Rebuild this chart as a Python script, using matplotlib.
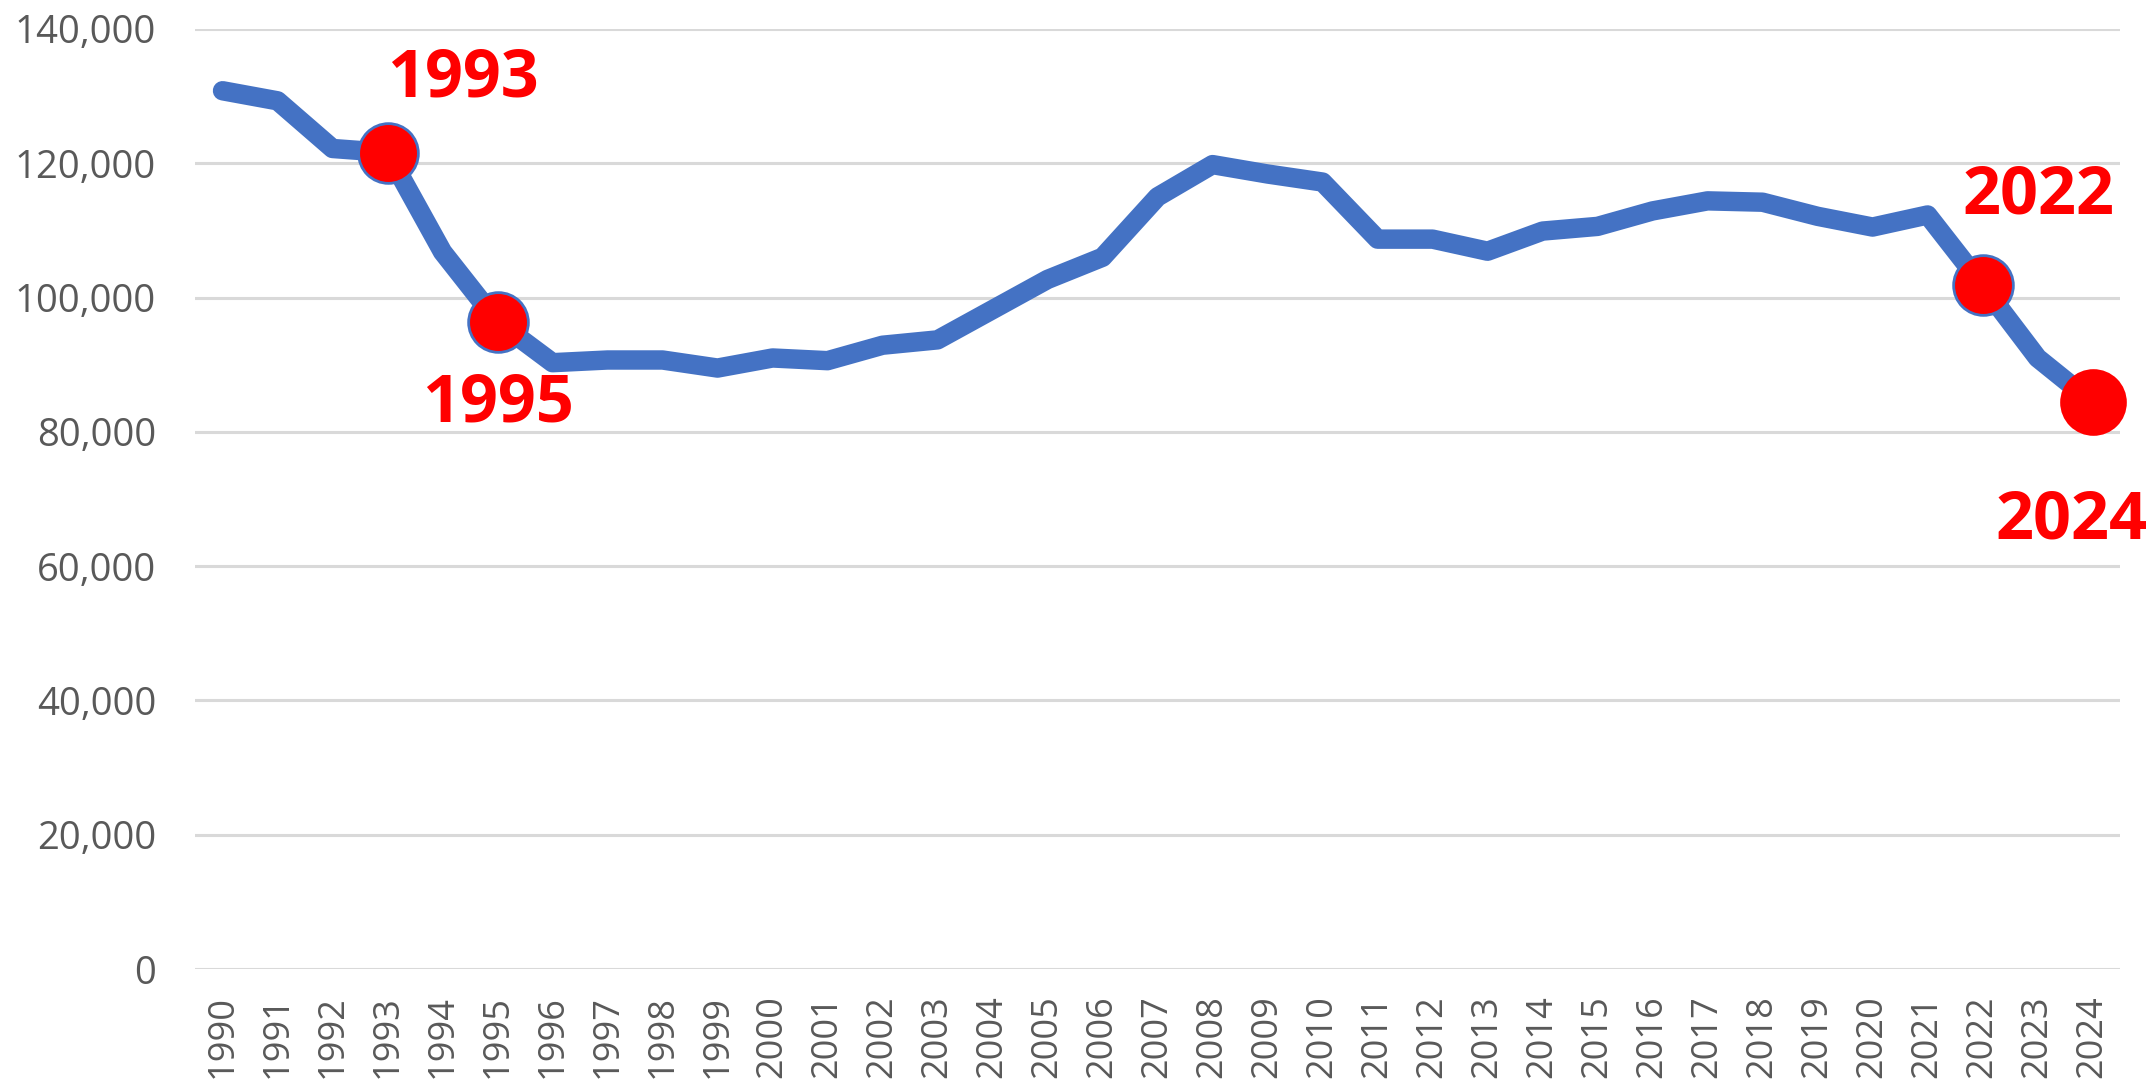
import numpy as np
import matplotlib
matplotlib.use("Agg")
import matplotlib.pyplot as plt
from matplotlib.ticker import FuncFormatter

# values
years = list(range(1990, 2025))
values = [130800, 129300, 122200, 121600, 106800, 96400, 90300, 90700, 90700, 89500,
          91000, 90600, 92900, 93700, 98200, 102700, 106000, 115000, 119800, 118400,
          117200, 108700, 108700, 106900, 109900, 110600, 112900, 114400, 114200, 112100,
          110500, 112300, 101800, 91000, 84400]
highlight_years = [1993, 1995, 2022, 2024]
y_ticks = [0, 20000, 40000, 60000, 80000, 100000, 120000, 140000]

blue = "#4472C4"
red = "#FF0000"
grey_txt = "#595959"

plt.rcParams['font.family'] = ['Open Sans', 'DejaVu Sans']

fig = plt.figure(figsize=(21.55, 10.85), dpi=100)
ax = fig.add_axes([0.0905, 0.1069, 0.8933, 0.8664])

x = np.arange(len(years))
ax.plot(x, values, color=blue, lw=14, solid_capstyle='round', solid_joinstyle='round', zorder=3)

# highlighted points: (offset in pixels for the label)
label_offsets = {1993: (75, 74), 1995: (0, -82), 2022: (56, 89), 2024: (-21, -119)}
for yr in highlight_years:
    i = years.index(yr)
    if yr == 2024:
        ax.plot(x[i], values[i], 'o', ms=48, mfc=red, mec=red, mew=0, zorder=4, clip_on=False)
    else:
        ax.plot(x[i], values[i], 'o', ms=43, mfc=red, mec=blue, mew=2, zorder=4, clip_on=False)
    dx, dy = label_offsets[yr]
    ax.annotate(str(yr), (x[i], values[i]), xytext=(dx, dy), textcoords='offset pixels',
                ha='center', va='center', color=red, fontsize=48, fontweight='bold',
                zorder=5, annotation_clip=False)

ax.set_xlim(-0.5, len(years) - 0.5)
ax.set_ylim(0, 140000)
ax.set_yticks(y_ticks)
ax.yaxis.set_major_formatter(FuncFormatter(lambda v, p: f"{int(v):,}"))
ax.set_xticks(x)
ax.set_xticklabels([str(y) for y in years], rotation=90)

ax.grid(axis='y', color='#d9d9d9', lw=2.2, zorder=0)
ax.set_axisbelow(True)
for s in ax.spines.values():
    s.set_visible(False)
ax.tick_params(axis='y', length=0, pad=28, labelsize=27.5, labelcolor=grey_txt)
ax.tick_params(axis='x', length=0, pad=19, labelsize=26, labelcolor=grey_txt)

fig.savefig("out.png", dpi=100, facecolor='white')
